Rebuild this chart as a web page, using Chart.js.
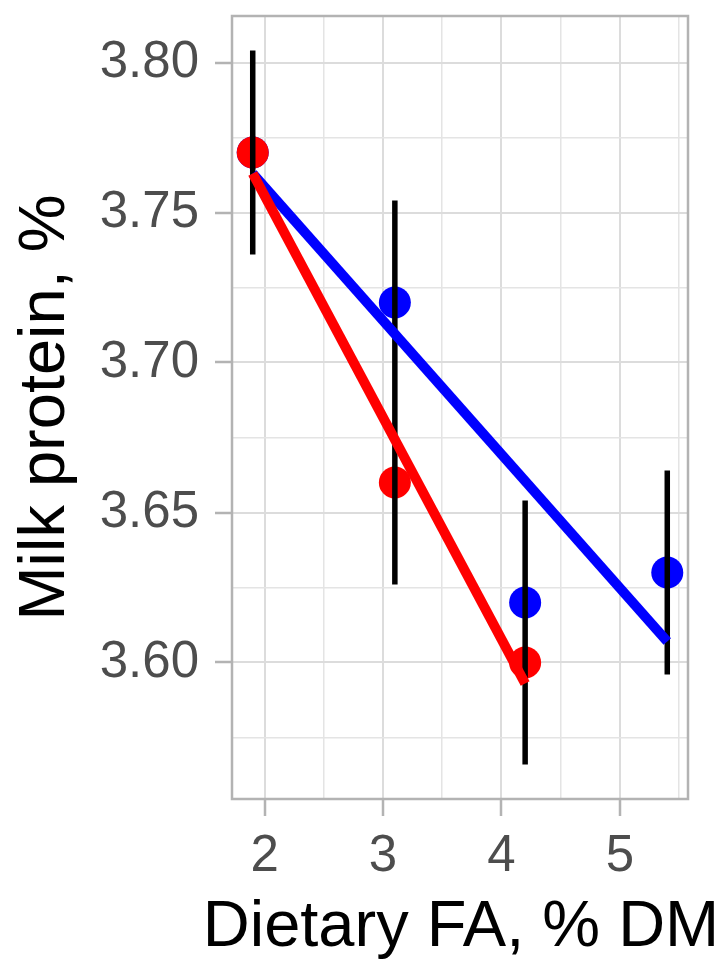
<!DOCTYPE html>
<html>
<head>
<meta charset="utf-8">
<script src="https://cdn.jsdelivr.net/npm/chart.js@4"></script>
<style>
  body { margin: 0; background: #fff; }
  canvas { display: block; }
</style>
</head>
<body>
<canvas id="faChart" width="727" height="960"></canvas>
<script>
// Levels of dietary FA (% DM)
const faLevels = [1.9, 3.1, 4.2, 5.4]
// Means by group (null = not shown)
const redMeans = [3.77, 3.66, 3.60, null]
const blueMeans = [3.77, 3.72, 3.62, 3.63]
// Error bars at each level
const errLow = [3.736, 3.626, 3.566, 3.596]
const errHigh = [3.804, 3.754, 3.654, 3.664]
// Fitted lines (ends)
const blueFitX = [1.9, 5.4]
const blueFitY = [3.763, 3.607]
const redFitX = [1.9, 4.2]
const redFitY = [3.763, 3.593]
// Axis ticks
const xMajor = [2, 3, 4, 5]
const xMinor = [2.5, 3.5, 4.5, 5.5]
const yMajor = [3.60, 3.65, 3.70, 3.75, 3.80]
const yMinor = [3.575, 3.625, 3.675, 3.725, 3.775]
// Axis titles
const xTitle = "Dietary FA, % DM"
const yTitle = "Milk protein, %"

const FONT = "'Liberation Sans', Arial, sans-serif"

function isIn(list, v) {
  return list.some((m) => Math.abs(m - v) < 1e-6)
}

function toPoints(xs, ys) {
  return xs.map((x, i) => ({ x: x, y: ys[i] }))
}

function setTicks(major, minor) {
  return (scale) => {
    scale.ticks = major.concat(minor).sort((a, b) => a - b).map((v) => ({ value: v }))
  }
}

function gridOpts(major) {
  return {
    color: (ctx) => (ctx.tick && isIn(major, ctx.tick.value) ? "#dcdcdc" : "#e4e4e4"),
    lineWidth: (ctx) => (ctx.tick && isIn(major, ctx.tick.value) ? 2 : 1.5),
    tickColor: (ctx) => (ctx.tick && isIn(major, ctx.tick.value) ? "#b3b3b3" : "rgba(0,0,0,0)"),
    tickWidth: 2.5,
    tickLength: 17,
    drawTicks: true,
  }
}

// panel border on top, like ggplot, plus the x title (Chart.js would squeeze it to the axis width)
const panelBorder = {
  id: "panelBorder",
  afterDraw(chart) {
    const { ctx, chartArea: a } = chart
    ctx.save()
    ctx.strokeStyle = "#b3b3b3"
    ctx.lineWidth = 2.5
    ctx.strokeRect(a.left, a.top, a.right - a.left, a.bottom - a.top)

    ctx.fillStyle = "#000000"
    ctx.font = "65px " + FONT
    ctx.textAlign = "center"
    ctx.textBaseline = "alphabetic"
    ctx.fillText(xTitle, (a.left + a.right) / 2 + 1, 946)
    ctx.restore()
  },
}

const datasets = []

// points first (drawn underneath)
datasets.push({
  data: toPoints(faLevels, blueMeans),
  backgroundColor: "#0000ff",
  borderWidth: 0,
  pointRadius: 16,
  showLine: false,
  order: 6,
})
datasets.push({
  data: toPoints(faLevels, redMeans),
  backgroundColor: "#ff0000",
  borderWidth: 0,
  pointRadius: 16,
  showLine: false,
  order: 5,
})

// error bars
faLevels.forEach((x, i) => {
  datasets.push({
    data: [{ x: x, y: errLow[i] }, { x: x, y: errHigh[i] }],
    borderColor: "#000000",
    borderWidth: 5.5,
    pointRadius: 0,
    showLine: true,
    order: 4,
  })
})

// fitted lines
datasets.push({
  data: toPoints(blueFitX, blueFitY),
  borderColor: "#0000ff",
  borderWidth: 10,
  pointRadius: 0,
  showLine: true,
  order: 2,
})
datasets.push({
  data: toPoints(redFitX, redFitY),
  borderColor: "#ff0000",
  borderWidth: 10,
  pointRadius: 0,
  showLine: true,
  order: 1,
})

new Chart(document.getElementById("faChart"), {
  type: "scatter",
  data: { datasets: datasets },
  plugins: [panelBorder],
  options: {
    responsive: false,
    animation: false,
    devicePixelRatio: 1,
    layout: { padding: { top: 7, right: 39, left: 0, bottom: 0 } },
    plugins: { legend: { display: false }, tooltip: { enabled: false } },
    scales: {
      x: {
        type: "linear",
        min: 1.725,
        max: 5.575,
        afterBuildTicks: setTicks(xMajor, xMinor),
        afterFit: (scale) => {
          scale.height = 161
          scale.paddingLeft = 0
          scale.paddingRight = 0
        },
        grid: gridOpts(xMajor),
        border: { display: false },
        ticks: {
          autoSkip: false,
          maxRotation: 0,
          padding: 10,
          color: "#4d4d4d",
          font: { family: FONT, size: 51 },
          callback: (v) => (isIn(xMajor, v) ? String(v) : ""),
        },
      },
      y: {
        type: "linear",
        min: 3.5545,
        max: 3.8155,
        afterBuildTicks: setTicks(yMajor, yMinor),
        afterFit: (scale) => {
          scale.width = 232
          scale.paddingTop = 0
          scale.paddingBottom = 0
        },
        grid: gridOpts(yMajor),
        border: { display: false },
        ticks: {
          autoSkip: false,
          padding: 16,
          color: "#4d4d4d",
          font: { family: FONT, size: 51 },
          callback: (v) => (isIn(yMajor, v) ? v.toFixed(2) : ""),
        },
        title: {
          display: true,
          text: yTitle,
          color: "#000000",
          font: { family: FONT, size: 65 },
          padding: { top: 7, bottom: 0 },
        },
      },
    },
  },
})
</script>
</body>
</html>
